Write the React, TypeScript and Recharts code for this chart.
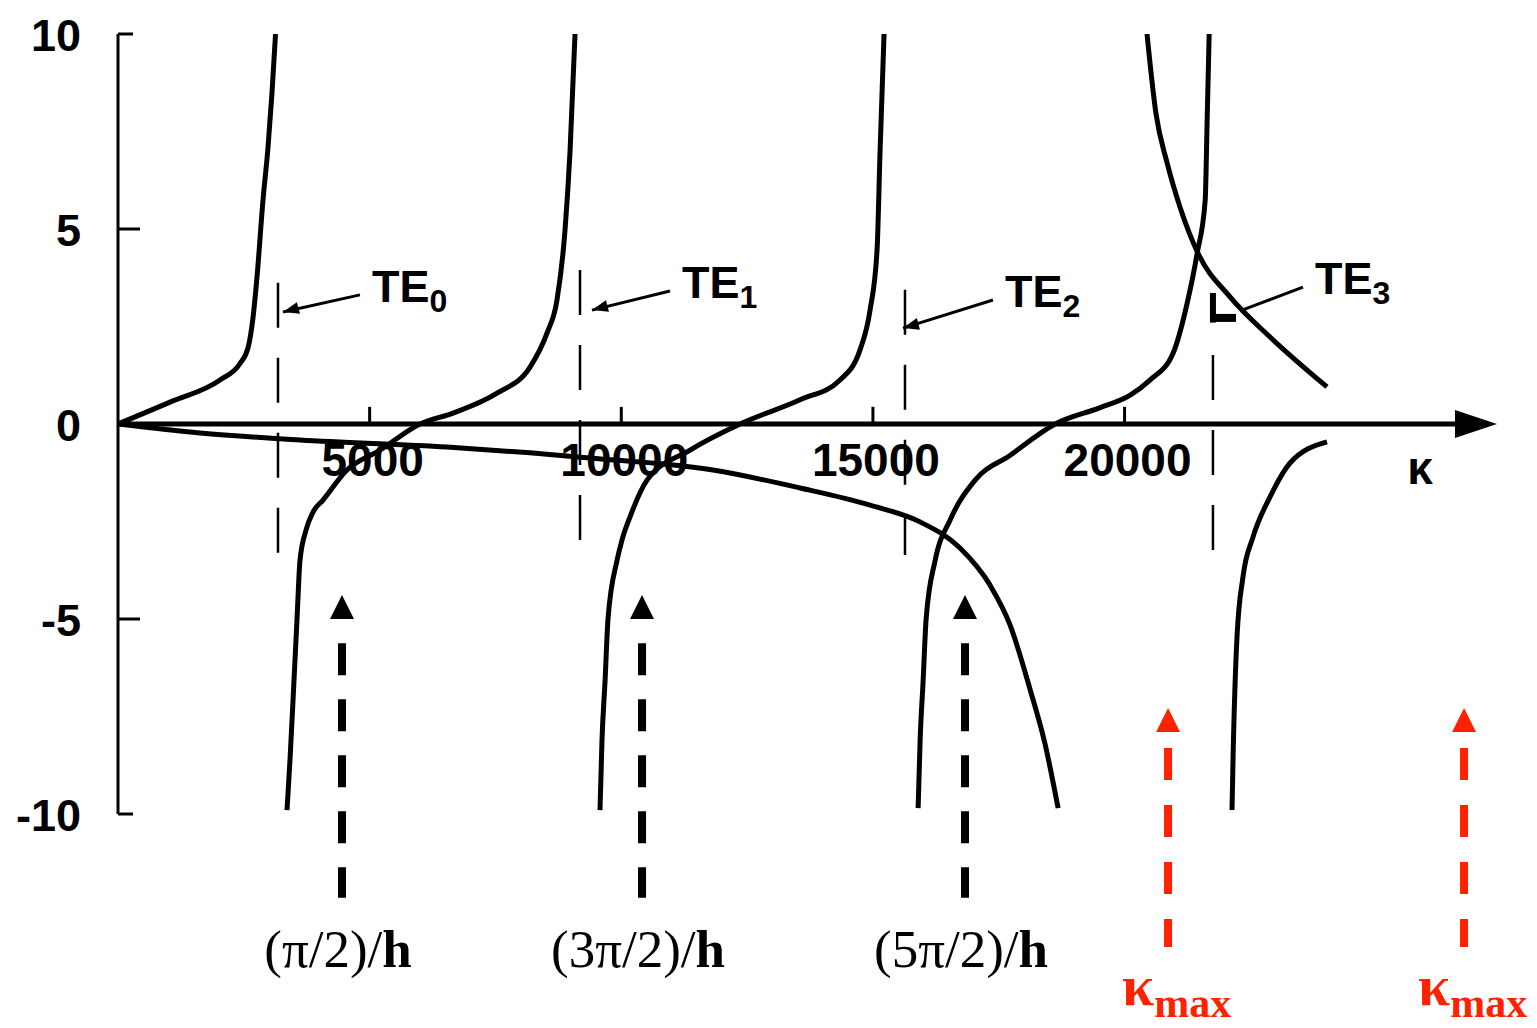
import React from 'react';
import { ComposedChart, Line, XAxis, YAxis, ReferenceLine, ReferenceDot } from 'recharts';

// kappa range shown on the horizontal axis
const K_END = 27400;

// left-hand side branches (tan-like), kappa + value
const te0K = [0, 1033, 2027, 2424, 2583, 2680, 2762, 2881, 2981, 3060, 3130];
const te0V = [0, 0.56, 1.13, 1.55, 1.95, 2.7, 3.77, 5.74, 7.1, 8.5, 10];

const te1K = [3358, 3418, 3477, 3557, 3616, 3736, 3875, 4073, 4550, 5206, 6001, 6657, 7531, 8187, 8524, 8723, 8882, 8982, 9081];
const te1V = [-9.9, -8.6, -7.1, -5.0, -3.5, -2.72, -2.26, -1.95, -1.18, -0.67, 0, 0.28, 0.79, 1.46, 2.33, 3.18, 4.97, 7.0, 10];

const te2K = [9577, 9617, 9677, 9736, 9915, 10015, 10174, 10512, 11366, 12360, 13552, 14347, 14744, 14943, 15082, 15142, 15221];
const te2V = [-9.9, -8.1, -6.6, -5.0, -3.5, -2.97, -2.38, -1.44, -0.67, 0, 0.62, 1.13, 1.9, 2.92, 4.46, 7.0, 10];

const te3K = [15898, 15938, 15997, 16057, 16236, 16534, 17031, 17727, 18622, 19516, 20112, 20509, 20966, 21244, 21443, 21602, 21641, 21681];
const te3V = [-9.85, -8.1, -6.6, -5.0, -3.5, -2.46, -1.44, -0.8, 0, 0.42, 0.74, 1.13, 1.82, 3.1, 4.38, 5.74, 7.8, 10];

const te4K = [22135, 22155, 22234, 22353, 22552, 22890, 23288, 24022];
const te4V = [-9.9, -8.6, -5.46, -3.92, -2.9, -1.87, -1.0, -0.46];

// right-hand side curves
const rhsK = [0, 1629, 3616, 6537, 8186, 9180, 11823, 13552, 14943, 15936, 16730, 17326, 17724, 18121, 18419, 18680];
const rhsV = [0, -0.23, -0.41, -0.59, -0.74, -0.85, -1.18, -1.64, -2.08, -2.51, -3.18, -4.13, -5.15, -6.8, -8.2, -9.85];

const rhs2K = [20446, 20625, 20844, 21102, 21459, 22095, 22890, 24022];
const rhs2V = [10, 7.95, 6.7, 5.56, 4.38, 3.26, 2.23, 0.95];

// axes
const yTicks = [10, 5, 0, -5, -10];
const xTicks = [5000, 10000, 15000, 20000];
const xTickLabels = ['5000', '10000', '15000', '20000'];

// mode markers
const modeSubs = ['0', '1', '2', '3'];
const modeLineK = [3179, 9180, 15637, 21756];
const modeLineTop = [3.62, 3.95, 3.44, 1.77];
const modeLineBottom = [-3.36, -3.23, -3.36, -3.44];
const modeTailK = [4808, 10968, 17385, 23545];
const modeTailV = [3.31, 3.41, 3.18, 3.51];
const modeHeadK = [3278, 9418, 15597, 22294];
const modeHeadV = [2.87, 2.92, 2.46, 2.9];

// cutoff arrows under the plot
const cutoffK = [4451, 10412, 16830];
const cutoffLabels = ['(π/2)/', '(3π/2)/', '(5π/2)/'];
const kmaxK = [20864, 26745];

const SANS = "'Liberation Sans', Arial, Helvetica, sans-serif";
const SERIF = "'Liberation Serif', 'Times New Roman', serif";
const RED = '#ff2200';

const toPts = (k: number[], v: number[]) => k.map((x, i) => ({ k: x, v: v[i] }));

const curves = [
  toPts(te0K, te0V),
  toPts(te1K, te1V),
  toPts(te2K, te2V),
  toPts(te3K, te3V),
  toPts(te4K, te4V),
  toPts(rhsK, rhsV),
  toPts(rhs2K, rhs2V),
];

const YTick = (props: any) => {
  const { x, y, payload } = props;
  const v = payload.value;
  const len = v === 0 ? 0 : Math.abs(v) === 10 ? 15 : 22;
  return (
    <g>
      {len > 0 && <line x1={x} x2={x + len} y1={y} y2={y} stroke="#000" strokeWidth={3} />}
      <text x={x - 37} y={y + 17} textAnchor="end" fontSize={45} fontWeight="bold" fontFamily={SANS} fill="#000">
        {String(v)}
      </text>
    </g>
  );
};

const axisHead = (p: any) => (
  <polygon points={`${p.cx},${p.cy} ${p.cx - 42},${p.cy - 14} ${p.cx - 42},${p.cy + 14}`} fill="#000" />
);

const upHead = (color: string) => (p: any) => (
  <polygon points={`${p.cx},${p.cy} ${p.cx - 12},${p.cy + 24} ${p.cx + 12},${p.cy + 24}`} fill={color} />
);

const modeHead = (p: any) => {
  const a = (15 * Math.PI) / 180;
  const ux = Math.cos(a);
  const uy = -Math.sin(a);
  const bx = p.cx + 16 * ux;
  const by = p.cy + 16 * uy;
  return (
    <polygon
      points={`${p.cx},${p.cy} ${bx - 6 * uy},${by + 6 * ux} ${bx + 6 * uy},${by - 6 * ux}`}
      fill="#000"
    />
  );
};

export default function App() {
  return (
    <div style={{ position: 'absolute', left: 0, top: 0, background: '#fff' }}>
      <ComposedChart width={1537} height={1028} margin={{ top: 34, right: 40, bottom: 214, left: 0 }}>
        <XAxis type="number" dataKey="k" domain={[0, K_END]} hide allowDataOverflow />
        <YAxis
          type="number"
          domain={[-10, 10]}
          ticks={yTicks}
          interval={0}
          width={118}
          tickSize={0}
          tickMargin={0}
          tickLine={false}
          axisLine={{ stroke: '#000', strokeWidth: 3 }}
          tick={<YTick />}
          allowDataOverflow
        />

        {/* kappa axis with arrow */}
        <ReferenceLine segment={[{ x: 0, y: 0 }, { x: 26900, y: 0 }]} stroke="#000" strokeWidth={5} ifOverflow="visible" />
        <ReferenceDot x={K_END} y={0} r={0} shape={axisHead} ifOverflow="visible" />
        {xTicks.map((k) => (
          <ReferenceLine key={`xt${k}`} segment={[{ x: k, y: 0 }, { x: k, y: 0.44 }]} stroke="#000" strokeWidth={3} ifOverflow="visible" />
        ))}
        {xTicks.map((k, i) => (
          <ReferenceDot
            key={`xl${k}`}
            x={k}
            y={0}
            r={0}
            ifOverflow="visible"
            shape={(p: any) => (
              <text x={p.cx + 3} y={p.cy + 52} textAnchor="middle" fontSize={46} fontWeight="bold" fontFamily={SANS} fill="#000">
                {xTickLabels[i]}
              </text>
            )}
          />
        ))}
        <ReferenceDot
          x={25871}
          y={0}
          r={0}
          ifOverflow="visible"
          shape={(p: any) => (
            <text x={p.cx} y={p.cy + 60} textAnchor="middle" fontSize={46} fontWeight="bold" fontFamily={SANS} fill="#000">
              κ
            </text>
          )}
        />

        {/* mode markers */}
        {modeLineK.map((k, i) => (
          <ReferenceLine
            key={`ml${i}`}
            segment={[{ x: k, y: modeLineTop[i] }, { x: k, y: modeLineBottom[i] }]}
            stroke="#000"
            strokeWidth={2.5}
            strokeDasharray="45 30"
            ifOverflow="visible"
          />
        ))}
        {modeTailK.map((k, i) => (
          <ReferenceLine
            key={`ma${i}`}
            segment={[{ x: k, y: modeTailV[i] }, { x: modeHeadK[i], y: modeHeadV[i] }]}
            stroke="#000"
            strokeWidth={3}
            ifOverflow="visible"
          />
        ))}
        {modeHeadK.slice(0, 3).map((k, i) => (
          <ReferenceDot key={`mh${i}`} x={k} y={modeHeadV[i]} r={0} shape={modeHead} ifOverflow="visible" />
        ))}
        <ReferenceLine segment={[{ x: 21756, y: 3.36 }, { x: 21756, y: 2.6 }]} stroke="#000" strokeWidth={6} ifOverflow="visible" />
        <ReferenceLine segment={[{ x: 21716, y: 2.72 }, { x: 22214, y: 2.72 }]} stroke="#000" strokeWidth={8} ifOverflow="visible" />
        {modeTailK.map((k, i) => (
          <ReferenceDot
            key={`mt${i}`}
            x={k}
            y={modeTailV[i]}
            r={0}
            ifOverflow="visible"
            shape={(p: any) => (
              <text x={p.cx + 12} y={p.cy + 7} fontSize={45} fontWeight="bold" fontFamily={SANS} fill="#000">
                TE
                <tspan fontSize={32} dy={10}>
                  {modeSubs[i]}
                </tspan>
              </text>
            )}
          />
        ))}

        {/* curves */}
        {curves.map((d, i) => (
          <Line
            key={`c${i}`}
            data={d}
            dataKey="v"
            type="monotone"
            stroke="#000"
            strokeWidth={5}
            dot={false}
            activeDot={false}
            isAnimationActive={false}
          />
        ))}

        {/* cutoff arrows */}
        {cutoffK.map((k, i) => (
          <ReferenceLine
            key={`ca${i}`}
            segment={[{ x: k, y: -5.62 }, { x: k, y: -12.15 }]}
            stroke="#000"
            strokeWidth={8}
            strokeDasharray="32 24"
            ifOverflow="visible"
          />
        ))}
        {cutoffK.map((k, i) => (
          <ReferenceDot key={`ch${i}`} x={k} y={-4.385} r={0} shape={upHead('#000')} ifOverflow="visible" />
        ))}
        {cutoffK.map((k, i) => (
          <ReferenceDot
            key={`ct${i}`}
            x={k}
            y={-12.15}
            r={0}
            ifOverflow="visible"
            shape={(p: any) => (
              <text x={p.cx - 4} y={p.cy + 69} textAnchor="middle" fontSize={53} fontFamily={SERIF} fill="#000">
                {cutoffLabels[i]}
                <tspan fontWeight="bold">h</tspan>
              </text>
            )}
          />
        ))}
        {kmaxK.map((k, i) => (
          <ReferenceLine
            key={`ka${i}`}
            segment={[{ x: k, y: -8.31 }, { x: k, y: -13.41 }]}
            stroke={RED}
            strokeWidth={8}
            strokeDasharray="32 25"
            ifOverflow="visible"
          />
        ))}
        {kmaxK.map((k, i) => (
          <ReferenceDot key={`kh${i}`} x={k} y={-7.28} r={0} shape={upHead(RED)} ifOverflow="visible" />
        ))}
        {kmaxK.map((k, i) => (
          <ReferenceDot
            key={`kt${i}`}
            x={k}
            y={-13.41}
            r={0}
            ifOverflow="visible"
            shape={(p: any) => (
              <text x={p.cx - 46} y={p.cy + 58} fontSize={58} fontWeight="bold" fontFamily={SERIF} fill={RED}>
                κ
                <tspan fontSize={42} dy={12}>
                  max
                </tspan>
              </text>
            )}
          />
        ))}
      </ComposedChart>
    </div>
  );
}
